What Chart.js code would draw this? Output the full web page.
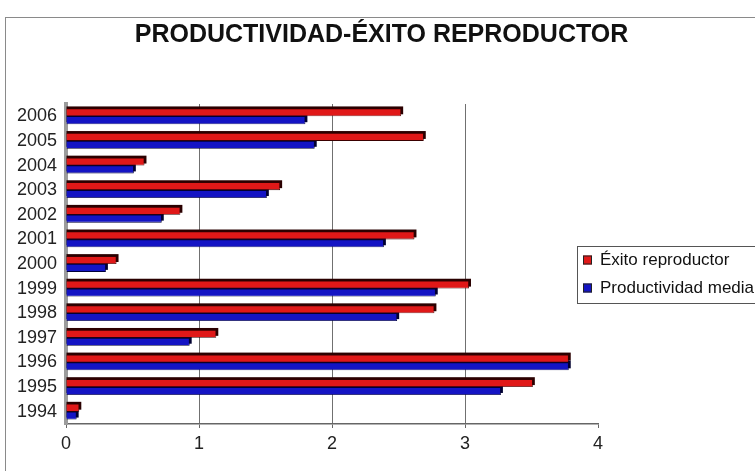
<!DOCTYPE html>
<html>
<head>
<meta charset="utf-8">
<script src="https://cdn.jsdelivr.net/npm/chart.js@4"></script>
<style>
  body { margin: 0; background: linear-gradient(#d4d4d4, #bdbdbd); overflow: hidden; }
  #wrap { position: absolute; left: 5px; top: 17px; width: 751px; height: 460px;
          background: #fff; border: 1px solid #8a8a8a; }
</style>
</head>
<body>
<div id="wrap"><canvas id="myChart" width="751" height="460"></canvas></div>
<script>
const titleText = 'PRODUCTIVIDAD-ÉXITO REPRODUCTOR';
const years = ['1994', '1995', '1996', '1997', '1998', '1999', '2000',
               '2001', '2002', '2003', '2004', '2005', '2006'];
const exito = [0.10, 3.51, 3.78, 1.13, 2.77, 3.03, 0.38, 2.62, 0.86, 1.61, 0.59, 2.69, 2.52];
const productividad = [0.08, 3.27, 3.78, 0.93, 2.49, 2.78, 0.30, 2.39, 0.72, 1.51, 0.51, 1.87, 1.80];
const xTicks = [0, 1, 2, 3, 4];

const red = '#e01818';
const blue = '#1414c4';

// dark offset behind each bar, gives the old excel 3d look
const shade = {
  id: 'shade',
  beforeDatasetsDraw(chart) {
    const ctx = chart.ctx;
    ctx.save();
    chart.data.datasets.forEach((ds, i) => {
      const dark = i === 0 ? '#2a0000' : '#000030';
      chart.getDatasetMeta(i).data.forEach(bar => {
        const p = bar.getProps(['x', 'y', 'base', 'height']);
        ctx.fillStyle = dark;
        ctx.fillRect(p.base, p.y - p.height / 2 - 2, p.x - p.base + 2, p.height);
      });
    });
    ctx.restore();
  }
};

// boxed legend like the original, clipped on the right
const boxLegend = {
  id: 'boxLegend',
  afterDraw(chart) {
    const ctx = chart.ctx;
    const area = chart.chartArea;
    const left = area.right - 21;
    const top = area.top + 142;
    ctx.save();
    ctx.fillStyle = '#fff';
    ctx.strokeStyle = '#555';
    ctx.lineWidth = 1;
    ctx.fillRect(left, top, 200, 57);
    ctx.strokeRect(left + 0.5, top + 0.5, 200, 57);
    ctx.font = '17px "Liberation Sans", Arial, sans-serif';
    ctx.textBaseline = 'middle';
    chart.data.datasets.forEach((ds, i) => {
      const cy = top + 14 + i * 28;
      ctx.fillStyle = ds.backgroundColor;
      ctx.fillRect(left + 6, cy - 4.5, 9, 9);
      ctx.strokeStyle = '#222';
      ctx.strokeRect(left + 6.5, cy - 4, 8, 8);
      ctx.fillStyle = '#111';
      ctx.fillText(ds.label, left + 23, cy);
    });
    ctx.restore();
  }
};

const data = {
  labels: years,
  datasets: [
    { label: 'Éxito reproductor', data: exito, backgroundColor: red,
      borderColor: '#3a0000', borderWidth: 0.8 },
    { label: 'Productividad media', data: productividad, backgroundColor: blue,
      borderColor: '#00003a', borderWidth: 0.8 }
  ]
};

const config = {
  type: 'bar',
  data: data,
  plugins: [shade, boxLegend],
  options: {
    responsive: false,
    animation: false,
    indexAxis: 'y',
    categoryPercentage: 0.64,
    barPercentage: 1,
    layout: { padding: 0 },
    plugins: {
      legend: { display: false },
      tooltip: { enabled: false },
      title: {
        display: true,
        text: titleText,
        color: '#111',
        font: { family: '"Liberation Sans", Arial, sans-serif', size: 25, weight: 'bold' },
        padding: { top: 2, bottom: 54 }
      }
    },
    scales: {
      x: {
        min: 0,
        max: 4,
        afterBuildTicks: s => { s.ticks = xTicks.map(v => ({ value: v })); },
        ticks: { color: '#222', padding: 5,
                 font: { family: '"Liberation Sans", Arial, sans-serif', size: 18 } },
        grid: {
          color: c => (c.index === 0 || c.index === 4) ? 'rgba(0,0,0,0)' : '#707070',
          tickColor: '#666',
          tickLength: 4
        },
        border: { color: '#666', width: 1.5 },
        afterFit: s => { s.height = 54; }
      },
      y: {
        reverse: true,
        ticks: { color: '#222', padding: 9,
                 font: { family: '"Liberation Sans", Arial, sans-serif', size: 18 } },
        grid: { display: false, drawTicks: false },
        border: { color: '#9c9c9c', width: 4 },
        afterFit: s => { s.width = 60; }
      },
      y2: {
        type: 'category',
        position: 'right',
        ticks: { display: false },
        grid: { display: false, drawTicks: false },
        border: { display: false },
        afterFit: s => { s.width = 159; }
      }
    }
  }
};

const myChart = new Chart(document.getElementById('myChart'), config);
</script>
</body>
</html>
